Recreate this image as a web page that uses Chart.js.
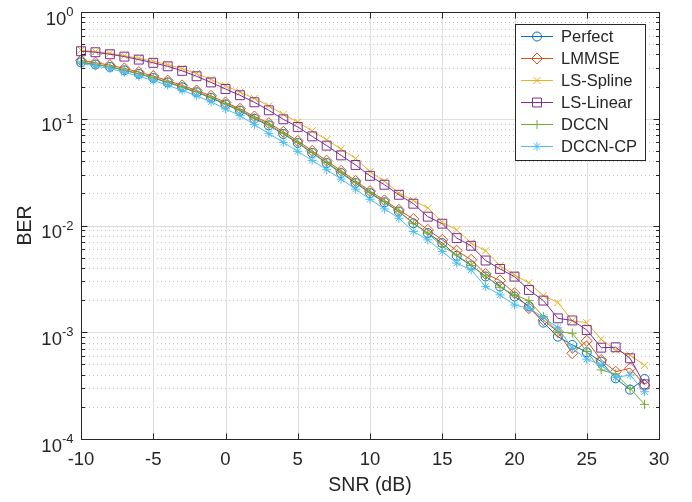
<!DOCTYPE html>
<html>
<head>
<meta charset="utf-8">
<script src="https://cdn.jsdelivr.net/npm/chart.js@4/dist/chart.umd.min.js"></script>
<style>
  html, body { margin: 0; padding: 0; background: #fff; }
  canvas { display: block; }
</style>
</head>
<body>
<canvas id="berChart" width="692" height="502"></canvas>
<script>
// SNR axis (dB)
const snr = [-10, -9, -8, -7, -6, -5, -4, -3, -2, -1,
  0, 1, 2, 3, 4, 5, 6, 7, 8, 9,
  10, 11, 12, 13, 14, 15, 16, 17, 18, 19,
  20, 21, 22, 23, 24, 25, 26, 27, 28, 29];

// BER curves
const perfect = [0.338, 0.322, 0.306, 0.284, 0.263, 0.241, 0.219, 0.197, 0.177, 0.157,
  0.136, 0.119, 0.100, 0.0867, 0.072, 0.0593, 0.0478, 0.0385, 0.031, 0.025,
  0.0201, 0.0165, 0.0135, 0.0105, 0.0085, 0.00684, 0.0052, 0.00422, 0.00333, 0.00268,
  0.00216, 0.00175, 0.00123, 0.00091, 0.00076, 0.00065, 0.00053, 0.00037, 0.00029, 0.000365];

const lmmse = [0.352, 0.335, 0.318, 0.296, 0.274, 0.251, 0.228, 0.205, 0.184, 0.164,
  0.142, 0.124, 0.105, 0.091, 0.0755, 0.062, 0.050, 0.0405, 0.0325, 0.0262,
  0.021, 0.0172, 0.014, 0.0115, 0.0091, 0.00734, 0.00582, 0.00477, 0.00352, 0.00305,
  0.00232, 0.00168, 0.0013, 0.00101, 0.000635, 0.00083, 0.00055, 0.000427, 0.00046, 0.00032];

const lsSpline = [0.44, 0.425, 0.41, 0.39, 0.368, 0.345, 0.322, 0.295, 0.265, 0.233,
  0.204, 0.178, 0.155, 0.132, 0.11, 0.093, 0.077, 0.0635, 0.052, 0.0425,
  0.032, 0.026, 0.0201, 0.0172, 0.0146, 0.0107, 0.0091, 0.00684, 0.00579, 0.00419,
  0.00345, 0.0029, 0.0022, 0.0019, 0.00128, 0.00123, 0.00086, 0.00068, 0.00061, 0.00049];

const lsLinear = [0.429, 0.420, 0.402, 0.382, 0.358, 0.334, 0.310, 0.281, 0.250, 0.219,
  0.190, 0.166, 0.1426, 0.120, 0.0988, 0.0838, 0.0684, 0.056, 0.0454, 0.0369,
  0.0292, 0.0241, 0.0194, 0.016, 0.0121, 0.0104, 0.00762, 0.00646, 0.0047, 0.00392,
  0.00332, 0.00249, 0.00198, 0.00135, 0.00129, 0.00105, 0.000717, 0.000723, 0.00057, 0.000325];

const dccn = [0.340, 0.324, 0.308, 0.286, 0.265, 0.243, 0.221, 0.199, 0.179, 0.159,
  0.138, 0.121, 0.102, 0.088, 0.073, 0.060, 0.0484, 0.039, 0.0315, 0.0254,
  0.0204, 0.0167, 0.0136, 0.0104, 0.0085, 0.00637, 0.00531, 0.00422, 0.00337, 0.00264,
  0.00224, 0.00198, 0.0014, 0.00101, 0.00098, 0.00066, 0.000443, 0.000407, 0.000298, 0.000211];

const dccnCp = [0.330, 0.312, 0.295, 0.272, 0.250, 0.228, 0.206, 0.184, 0.164, 0.144,
  0.1236, 0.107, 0.088, 0.0725, 0.060, 0.0495, 0.0407, 0.0333, 0.0272, 0.0219,
  0.0176, 0.0143, 0.0117, 0.0088, 0.00734, 0.0057, 0.00444, 0.00384, 0.00268, 0.00224,
  0.0018, 0.00168, 0.00138, 0.0011, 0.00071, 0.00056, 0.000494, 0.000378, 0.000397, 0.000277];

// tick labels
const xTicks = [-10, -5, 0, 5, 10, 15, 20, 25, 30];
const yTicks = [1, 0.1, 0.01, 0.001, 0.0001];
const yTickExps = ['0', '-1', '-2', '-3', '-4'];

const FONT = "'Liberation Sans', Arial, Helvetica, sans-serif";
const AXIS_COLOR = '#262626';

const series = [
  { label: 'Perfect', data: perfect, color: '#0072BD', style: 'circle', radius: 4.5 },
  { label: 'LMMSE', data: lmmse, color: '#D95319', style: 'rectRot', radius: 5.5 },
  { label: 'LS-Spline', data: lsSpline, color: '#EDB120', style: 'crossRot', radius: 5 },
  { label: 'LS-Linear', data: lsLinear, color: '#7E2F8E', style: 'rect', radius: 6.3 },
  { label: 'DCCN', data: dccn, color: '#77AC30', style: 'cross', radius: 4.5 },
  { label: 'DCCN-CP', data: dccnCp, color: '#4DBEEE', style: 'star', radius: 4.5 }
];

function toPoints(values) {
  return values.map(function(v, i) {
    return { x: snr[i], y: v };
  });
}

// later series sit on top, like the original plot
const datasets = series.map(function(s, i) {
  return {
    label: s.label,
    data: toPoints(s.data),
    borderColor: s.color,
    backgroundColor: 'rgba(0,0,0,0)',
    borderWidth: 1,
    pointStyle: s.style,
    pointRadius: s.radius,
    pointBorderWidth: 1,
    pointBorderColor: s.color,
    pointBackgroundColor: 'rgba(0,0,0,0)',
    tension: 0,
    clip: false,
    order: series.length - i
  };
});

function hline(ctx, x1, x2, y) {
  ctx.beginPath();
  ctx.moveTo(x1, y);
  ctx.lineTo(x2, y);
  ctx.stroke();
}

function vline(ctx, x, y1, y2) {
  ctx.beginPath();
  ctx.moveTo(x, y1);
  ctx.lineTo(x, y2);
  ctx.stroke();
}

function minorValues() {
  const vals = [];
  for (let k = 0; k < yTicks.length - 1; k++) {
    const base = yTicks[k + 1];
    for (let m = 2; m <= 9; m++) vals.push(base * m);
  }
  return vals;
}

function drawMarker(ctx, s, x, y) {
  ctx.save();
  ctx.strokeStyle = s.color;
  ctx.fillStyle = 'rgba(0,0,0,0)';
  ctx.lineWidth = 1;
  Chart.helpers.drawPoint(ctx, { pointStyle: s.style, radius: s.radius, rotation: 0, borderWidth: 1 }, x, y);
  ctx.restore();
}

const matlabAxes = {
  id: 'matlabAxes',
  beforeDatasetsDraw(chart) {
    const ctx = chart.ctx, a = chart.chartArea;
    const xs = chart.scales.x, ys = chart.scales.y;
    ctx.save();
    ctx.lineWidth = 1;

    // minor grid, dotted
    ctx.strokeStyle = '#c4c4c4';
    ctx.setLineDash([1, 3]);
    minorValues().forEach(function(v) {
      hline(ctx, a.left, a.right, Math.round(ys.getPixelForValue(v)) + 0.5);
    });

    // major grid
    ctx.setLineDash([]);
    ctx.strokeStyle = '#dedede';
    yTicks.forEach(function(v) {
      hline(ctx, a.left, a.right, Math.round(ys.getPixelForValue(v)) + 0.5);
    });
    xTicks.forEach(function(v) {
      vline(ctx, Math.round(xs.getPixelForValue(v)) + 0.5, a.top, a.bottom);
    });
    ctx.restore();
  },
  afterDatasetsDraw(chart) {
    const ctx = chart.ctx, a = chart.chartArea;
    const xs = chart.scales.x, ys = chart.scales.y;
    const L = Math.round(a.left) + 0.5, R = Math.round(a.right) + 0.5;
    const T = Math.round(a.top) + 0.5, B = Math.round(a.bottom) + 0.5;
    ctx.save();
    ctx.strokeStyle = AXIS_COLOR;
    ctx.fillStyle = AXIS_COLOR;
    ctx.lineWidth = 1;

    // box
    ctx.strokeRect(L, T, R - L, B - T);

    // ticks on all four sides
    xTicks.forEach(function(v) {
      const px = Math.round(xs.getPixelForValue(v)) + 0.5;
      vline(ctx, px, B, B - 6);
      vline(ctx, px, T, T + 6);
    });
    yTicks.forEach(function(v) {
      const py = Math.round(ys.getPixelForValue(v)) + 0.5;
      hline(ctx, L, L + 6, py);
      hline(ctx, R, R - 6, py);
    });
    minorValues().forEach(function(v) {
      const py = Math.round(ys.getPixelForValue(v)) + 0.5;
      hline(ctx, L, L + 3.5, py);
      hline(ctx, R, R - 3.5, py);
    });

    // x tick labels
    ctx.font = '18.5px ' + FONT;
    ctx.textAlign = 'center';
    ctx.textBaseline = 'alphabetic';
    xTicks.forEach(function(v) {
      ctx.fillText(String(v), xs.getPixelForValue(v), 465);
    });

    // y tick labels, 10 with a raised exponent
    yTicks.forEach(function(v, i) {
      const py = ys.getPixelForValue(v);
      ctx.textAlign = 'right';
      ctx.font = '13px ' + FONT;
      const ew = ctx.measureText(yTickExps[i]).width;
      ctx.fillText(yTickExps[i], 73.5, py + 4);
      ctx.font = '18.5px ' + FONT;
      ctx.fillText('10', 73.5 - ew, py + 12.5);
    });

    // axis titles
    ctx.font = '19.5px ' + FONT;
    ctx.textAlign = 'center';
    ctx.fillText('SNR (dB)', (a.left + a.right) / 2, 491);
    ctx.save();
    ctx.translate(31, (a.top + a.bottom) / 2);
    ctx.rotate(-Math.PI / 2);
    ctx.fillText('BER', 0, 0);
    ctx.restore();

    // legend
    const lx = 515.5, ly = 24.5, lw = 130, lh = 136;
    ctx.fillStyle = '#ffffff';
    ctx.fillRect(lx, ly, lw, lh);
    ctx.strokeStyle = AXIS_COLOR;
    ctx.strokeRect(lx, ly, lw, lh);
    ctx.font = '16.5px ' + FONT;
    ctx.textAlign = 'left';
    ctx.textBaseline = 'middle';
    series.forEach(function(s, i) {
      const ey = 36.5 + i * 22;
      ctx.strokeStyle = s.color;
      hline(ctx, 521, 553, ey);
      drawMarker(ctx, s, 537, ey);
      ctx.fillStyle = AXIS_COLOR;
      ctx.fillText(s.label, 561, ey + 1);
    });
    ctx.restore();
  }
};

const whiteBg = {
  id: 'whiteBg',
  beforeDraw(chart) {
    const ctx = chart.ctx;
    ctx.save();
    ctx.fillStyle = '#ffffff';
    ctx.fillRect(0, 0, chart.width, chart.height);
    ctx.restore();
  }
};

new Chart(document.getElementById('berChart'), {
  type: 'line',
  data: { datasets: datasets },
  options: {
    responsive: false,
    animation: false,
    devicePixelRatio: 1,
    layout: { padding: { left: 81, right: 33, top: 12, bottom: 63 } },
    plugins: { legend: { display: false }, tooltip: { enabled: false } },
    scales: {
      x: { type: 'linear', min: -10, max: 30, display: false },
      y: { type: 'logarithmic', min: 0.0001, max: 1, display: false }
    }
  },
  plugins: [whiteBg, matlabAxes]
});
</script>
</body>
</html>
